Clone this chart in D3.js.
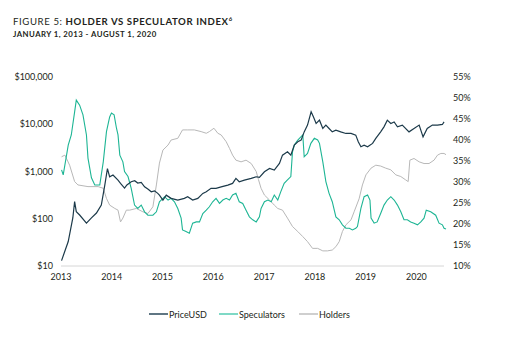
<!DOCTYPE html>
<html>
<head>
<meta charset="utf-8">
<script src="https://cdn.jsdelivr.net/npm/d3@7"></script>
<style>
  body { margin: 0; background: #fff; }
  svg { display: block; font-family: Lato, "Open Sans", sans-serif; }
</style>
</head>
<body>
<svg id="chart" width="527" height="342"></svg>
<script>
// BTC price (USD)
const priceDates = ["2013-01-05","2013-02-22","2013-03-27","2013-04-09","2013-04-21","2013-05-15","2013-07-03","2013-08-08","2013-09-13","2013-10-18","2013-11-12","2013-12-01","2013-12-17","2014-01-10","2014-02-15","2014-03-05","2014-04-03","2014-04-20","2014-05-21","2014-06-15","2014-07-07","2014-08-01","2014-08-25","2014-09-20","2014-10-12","2014-11-05","2014-11-28","2014-12-10","2015-01-04","2015-01-28","2015-03-04","2015-04-21","2015-06-07","2015-07-01","2015-08-06","2015-09-12","2015-10-18","2015-11-12","2015-12-16","2016-01-21","2016-02-27","2016-04-15","2016-05-19","2016-06-12","2016-07-06","2016-08-12","2016-09-30","2016-11-05","2016-11-28","2017-01-03","2017-02-09","2017-03-15","2017-04-21","2017-05-13","2017-06-18","2017-07-12","2017-08-06","2017-08-31","2017-09-24","2017-10-16","2017-11-09","2017-12-05","2017-12-22","2018-01-10","2018-02-03","2018-02-27","2018-03-21","2018-04-13","2018-05-06","2018-06-01","2018-07-06","2018-08-12","2018-09-18","2018-10-22","2018-11-09","2018-11-28","2018-12-21","2019-01-15","2019-02-20","2019-03-15","2019-04-19","2019-05-13","2019-06-06","2019-07-01","2019-07-25","2019-08-18","2019-09-22","2019-11-09","2019-12-15","2020-01-21","2020-02-18","2020-03-19","2020-04-25","2020-06-01","2020-07-06","2020-07-18"];
const priceValues = [13,33,104,230,141,120,81,104,132,195,515,1150,773,840,657,560,447,520,607,640,569,590,475,420,372,390,344,316,248,316,270,248,270,292,248,270,344,372,440,440,474,515,560,714,607,657,714,773,750,986,1160,1070,1480,2220,2610,2220,3610,4250,4610,6900,9600,18300,14300,10400,12200,8130,9550,8130,6900,7500,6900,6380,6380,5890,4250,3330,3610,3330,3930,5010,6900,8810,12200,10400,11200,8810,9600,6900,8130,9600,5420,8130,9600,9600,9900,11200];

// Speculators share (%)
const specDates = ["2013-01-05","2013-01-17","2013-02-22","2013-03-16","2013-04-09","2013-04-21","2013-05-15","2013-06-08","2013-07-03","2013-07-14","2013-08-08","2013-09-01","2013-10-07","2013-11-01","2013-11-24","2013-12-17","2013-12-30","2014-01-18","2014-02-04","2014-02-15","2014-02-28","2014-03-22","2014-04-03","2014-04-28","2014-05-21","2014-06-14","2014-07-07","2014-08-01","2014-08-25","2014-09-18","2014-10-24","2014-11-18","2014-12-10","2015-01-16","2015-02-10","2015-03-04","2015-03-28","2015-04-21","2015-05-15","2015-05-25","2015-06-19","2015-07-13","2015-08-06","2015-09-01","2015-09-24","2015-10-18","2015-11-12","2015-12-04","2015-12-28","2016-01-21","2016-02-15","2016-03-10","2016-04-03","2016-04-27","2016-05-19","2016-06-12","2016-07-06","2016-07-31","2016-08-24","2016-09-17","2016-10-11","2016-11-05","2016-11-28","2016-12-10","2017-01-03","2017-01-28","2017-02-21","2017-03-15","2017-04-09","2017-05-01","2017-05-25","2017-06-18","2017-07-12","2017-07-24","2017-08-06","2017-08-31","2017-09-24","2017-10-06","2017-10-16","2017-11-09","2017-12-03","2017-12-28","2018-01-21","2018-02-03","2018-02-27","2018-03-21","2018-04-13","2018-05-06","2018-06-01","2018-06-25","2018-07-18","2018-08-12","2018-09-06","2018-09-28","2018-10-22","2018-11-03","2018-11-28","2018-12-21","2019-01-15","2019-02-01","2019-02-09","2019-03-03","2019-03-25","2019-04-19","2019-05-13","2019-06-06","2019-07-01","2019-07-25","2019-08-18","2019-09-11","2019-10-04","2019-10-28","2019-11-21","2019-12-15","2020-01-09","2020-02-02","2020-02-25","2020-03-12","2020-04-13","2020-05-19","2020-06-12","2020-07-06","2020-07-18","2020-08-01"];
const specValues = [32.9,31.7,38.8,41.2,46.7,49.5,48.3,46,41.2,35.7,31,29.3,29.3,34.8,42,45.5,46.4,46,42.8,41.2,36.4,34.8,32.5,31.3,28.5,24.5,23.7,24.5,22.9,22.1,22.1,22.9,25.3,26.5,25.7,26.1,25.3,23.7,21.4,18.6,18.2,17.8,20.2,20.5,20.5,22.5,23.3,24.1,25.3,26.1,24.9,25.7,26.1,25.7,26.9,27.3,25.3,24.9,23.3,21.7,21,20.5,21.7,23.7,25.3,25.7,25.3,26.9,25.7,27.7,29.7,30.5,31.3,37.2,38.8,40,40.8,41.2,36,36.8,39.2,40.4,40,39.2,34.8,30.1,27.3,25.3,21.7,21,19.8,19,19,18.6,19,19.4,23.7,26.5,26.9,25.7,21.4,20.2,20.5,22.5,24.5,25.7,26.5,25.7,24.5,22.9,21,21,20.5,20.2,19.8,20.5,21.4,23.3,22.9,22.1,20.2,19.8,19,18.8];

// Holders share (%)
const holdDates = ["2013-01-05","2013-01-29","2013-03-04","2013-04-09","2013-05-03","2013-07-14","2013-09-25","2013-11-01","2013-11-24","2013-12-17","2014-01-23","2014-02-15","2014-03-05","2014-03-22","2014-04-16","2014-05-10","2014-06-27","2014-08-13","2014-09-18","2014-10-24","2014-11-18","2014-12-10","2015-01-04","2015-02-10","2015-03-04","2015-04-21","2015-05-25","2015-07-01","2015-08-18","2015-10-06","2015-11-12","2015-12-04","2016-01-06","2016-02-03","2016-02-27","2016-04-03","2016-04-27","2016-05-19","2016-06-12","2016-07-19","2016-08-24","2016-09-30","2016-11-05","2016-11-21","2016-12-10","2017-01-03","2017-02-09","2017-03-15","2017-04-09","2017-05-13","2017-06-18","2017-07-24","2017-08-31","2017-10-06","2017-11-09","2017-12-15","2018-01-21","2018-02-27","2018-04-01","2018-05-06","2018-06-01","2018-06-25","2018-07-18","2018-08-12","2018-09-18","2018-10-10","2018-11-15","2018-12-09","2019-01-03","2019-02-09","2019-03-15","2019-04-19","2019-05-25","2019-07-01","2019-08-06","2019-09-11","2019-10-16","2019-11-03","2019-11-15","2019-12-15","2020-01-21","2020-02-25","2020-04-01","2020-05-07","2020-06-01","2020-06-25","2020-07-18","2020-08-01"];
const holdValues = [36,36.4,34,30.1,29.3,28.9,28.9,28.5,26.1,24.5,23.7,23.3,20.5,21.4,23.3,23.3,23.7,22.9,22.5,24.1,29.3,34.5,37.6,38.8,40,40.4,42.4,42.4,42.4,42,41.6,42,42.8,41.6,41.2,39.6,38,36.4,35.2,34.8,35.2,34.4,32.5,30.6,28.5,26.9,25.7,24.5,23.7,23.3,21.4,19.4,18.2,17,15.8,14.2,14.2,13.6,13.6,13.8,14.6,15.8,18.2,19.8,21,22.9,26,29.3,31.7,33.3,34,33.8,33.3,32.9,31.7,31.3,30.5,30.1,35.2,35.6,34.8,34.4,34.4,35.2,36.4,36.8,36.8,36.5];

const years = [2013, 2014, 2015, 2016, 2017, 2018, 2019, 2020];
const priceTicks = [10, 100, 1000, 10000, 100000];
const pctTicks = [10, 15, 20, 25, 30, 35, 40, 45, 50, 55];

const colors = { price: "#1c3a4a", spec: "#1db594", hold: "#b8b8b8" };

const parse = d3.timeParse("%Y-%m-%d");
const zip = (ds, vs) => ds.map((d, i) => ({ date: parse(d), value: vs[i] }));
const priceData = zip(priceDates, priceValues);
const specData = zip(specDates, specValues);
const holdData = zip(holdDates, holdValues);

const svg = d3.select("#chart");

const x = d3.scaleTime()
    .domain([new Date(2013, 0, 1), new Date(2020, 7, 1)])
    .range([61, 446]);
const yPrice = d3.scaleLog().domain([10, 100000]).range([266, 77]);
const yPct = d3.scaleLinear().domain([10, 55]).range([266, 77]);

// title
const title = svg.append("text")
    .attr("x", 13).attr("y", 25)
    .attr("font-size", 9.6)
    .attr("letter-spacing", 0.6)
    .attr("fill", "#231f20");
title.append("tspan").text("FIGURE 5: ");
title.append("tspan").attr("font-weight", "bold").text("HOLDER VS SPECULATOR INDEX");
title.append("tspan").attr("font-size", 6).attr("dy", -4).attr("font-weight", "bold").text("6");

svg.append("text")
    .attr("x", 13).attr("y", 37)
    .attr("font-size", 7.8)
    .attr("letter-spacing", 0.45)
    .attr("font-weight", "bold")
    .attr("fill", "#231f20")
    .text("JANUARY 1, 2013 - AUGUST 1, 2020");

// x axis baseline
svg.append("line")
    .attr("x1", x(new Date(2013, 0, 1))).attr("x2", 444)
    .attr("y1", 266).attr("y2", 266)
    .attr("stroke", "#d6d6d6").attr("stroke-width", 1);

svg.append("g")
    .selectAll("text")
    .data(years)
    .enter().append("text")
    .attr("x", d => x(new Date(d, 0, 1)))
    .attr("y", 280)
    .attr("text-anchor", "middle")
    .attr("font-size", 9)
    .attr("fill", "#231f20")
    .text(d => d);

svg.append("g")
    .selectAll("text")
    .data(priceTicks)
    .enter().append("text")
    .attr("x", 53)
    .attr("y", d => yPrice(d) + 3)
    .attr("text-anchor", "end")
    .attr("font-size", 9)
    .attr("fill", "#231f20")
    .text(d => "$" + d3.format(",")(d));

svg.append("g")
    .selectAll("text")
    .data(pctTicks)
    .enter().append("text")
    .attr("x", 453)
    .attr("y", d => yPct(d) + 3)
    .attr("text-anchor", "start")
    .attr("font-size", 9)
    .attr("fill", "#231f20")
    .text(d => d + "%");

const pctLine = d3.line().x(d => x(d.date)).y(d => yPct(d.value));
const priceLine = d3.line().x(d => x(d.date)).y(d => yPrice(d.value));

svg.append("path").datum(holdData)
    .attr("d", pctLine).attr("fill", "none")
    .attr("stroke", colors.hold).attr("stroke-width", 1);
svg.append("path").datum(specData)
    .attr("d", pctLine).attr("fill", "none")
    .attr("stroke", colors.spec).attr("stroke-width", 1.1);
svg.append("path").datum(priceData)
    .attr("d", priceLine).attr("fill", "none")
    .attr("stroke", colors.price).attr("stroke-width", 1.2);

// legend
const legend = [
    { name: "PriceUSD", color: "#5f7683", x: 149 },
    { name: "Speculators", color: "#7fd9c6", x: 219 },
    { name: "Holders", color: "#cfcfcf", x: 299 }
];
const lg = svg.append("g").selectAll("g").data(legend).enter().append("g");
lg.append("line")
    .attr("x1", d => d.x).attr("x2", d => d.x + 19)
    .attr("y1", 314).attr("y2", 314)
    .attr("stroke", d => d.color).attr("stroke-width", 2);
lg.append("text")
    .attr("x", d => d.x + 20).attr("y", 317.5)
    .attr("font-size", 9)
    .attr("fill", "#231f20")
    .text(d => d.name);
</script>
</body>
</html>
